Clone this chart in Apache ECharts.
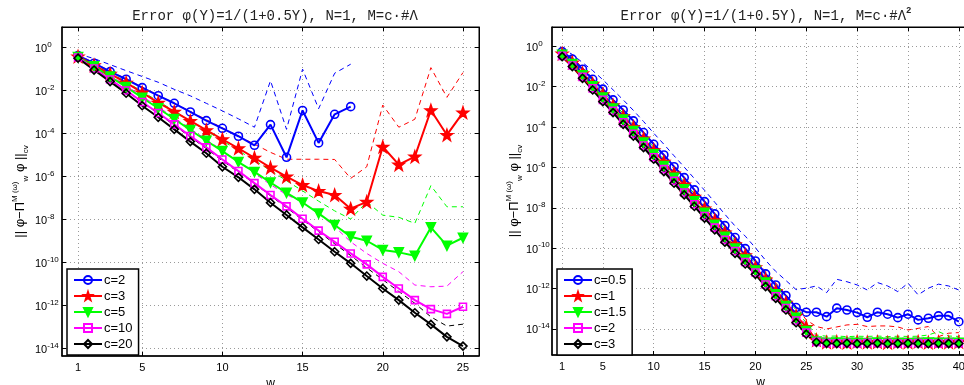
<!DOCTYPE html>
<html><head><meta charset="utf-8">
<script src="https://cdn.jsdelivr.net/npm/echarts@6/dist/echarts.min.js"></script>
<style>html,body{margin:0;padding:0;background:#fff}#c{width:964px;height:385px}</style>
</head><body><div id="c"></div>
<script>
// ---- categories (w) ----
const wLeft = [1,2,3,4,5,6,7,8,9,10,11,12,13,14,15,16,17,18,19,20,21,22,23,24,25];
const wRight = [1,2,3,4,5,6,7,8,9,10,11,12,13,14,15,16,17,18,19,20,21,22,23,24,25,26,27,28,29,30,31,32,33,34,35,36,37,38,39,40];
// ---- tick labels ----
const xTicksLeft = [1,5,10,15,20,25];
const xTicksRight = [1,5,10,15,20,25,30,35,40];
const yTicks = [-14,-12,-10,-8,-6,-4,-2,0]; // exponents of 10
// ---- left plot: log10 of error, M = c·#Λ ----
const L_c2   = [-0.38,-0.735,-1.126,-1.48,-1.87,-2.245,-2.597,-3.0,-3.406,-3.76,-4.13,-4.55,-3.59,-5.11,-2.93,-4.44,-3.11,-2.755];
const L_c2d  = [-0.3,-0.52,-0.8,-1.08,-1.35,-1.62,-1.95,-2.25,-2.6,-2.95,-3.32,-3.71,-1.55,-3.81,-1.01,-2.85,-1.2,-0.78];
const L_c3   = [-0.42,-0.83,-1.23,-1.64,-2.10,-2.57,-2.99,-3.42,-3.85,-4.27,-4.69,-5.13,-5.59,-6.01,-6.40,-6.68,-6.86,-7.50,-7.18,-4.62,-5.45,-5.08,-2.92,-4.07,-3.03];
const L_c3d  = [-0.35,-0.72,-1.1,-1.47,-1.85,-2.22,-2.6,-2.98,-3.36,-3.74,-4.12,-4.5,-4.88,-5.20,-5.20,-5.20,-5.21,-6.09,-5.55,-2.68,-3.71,-3.34,-0.94,-2.32,-1.17];
const L_c5   = [-0.45,-0.88,-1.36,-1.84,-2.34,-2.83,-3.33,-3.84,-4.34,-4.82,-5.33,-5.79,-6.28,-6.76,-7.21,-7.72,-8.26,-8.80,-8.99,-9.42,-9.53,-9.69,-8.37,-9.22,-8.85];
const L_c5d  = [-0.38,-0.76,-1.18,-1.6,-2.05,-2.5,-2.96,-3.42,-3.88,-4.34,-4.8,-5.26,-5.72,-6.2,-6.67,-7.15,-7.6,-7.98,-7.18,-7.80,-7.90,-8.18,-6.43,-7.41,-7.41];
const L_c10  = [-0.47,-0.98,-1.49,-2.00,-2.54,-3.05,-3.58,-4.12,-4.65,-5.21,-5.75,-6.31,-6.86,-7.39,-7.97,-8.52,-9.04,-9.58,-10.09,-10.67,-11.21,-11.75,-12.17,-12.39,-12.06];
const L_c10d = [-0.40,-0.85,-1.3,-1.78,-2.27,-2.76,-3.27,-3.78,-4.28,-4.8,-5.32,-5.85,-6.38,-6.85,-7.2,-7.72,-8.34,-9.04,-9.58,-10.04,-10.43,-11.05,-11.13,-11.10,-10.43];
const L_c20  = [-0.50,-1.05,-1.59,-2.13,-2.71,-3.25,-3.81,-4.38,-4.92,-5.55,-6.04,-6.60,-7.22,-7.79,-8.37,-8.93,-9.50,-10.04,-10.63,-11.21,-11.75,-12.34,-12.88,-13.46,-13.89];
const L_c20d = [-0.45,-0.95,-1.48,-2.0,-2.55,-3.08,-3.62,-4.17,-4.7,-5.27,-5.8,-6.33,-6.9,-7.45,-8.02,-8.57,-9.13,-9.68,-10.25,-10.8,-11.35,-11.9,-12.53,-12.96,-12.87];
// ---- right plot: log10 of error, M = c·#Λ² ----
const R_c05  = [-0.26,-0.63,-1.13,-1.63,-2.12,-2.65,-3.15,-3.69,-4.27,-4.85,-5.38,-5.96,-6.50,-7.11,-7.69,-8.30,-8.88,-9.47,-10.02,-10.63,-11.27,-11.82,-12.35,-12.94,-13.17,-13.17,-13.39,-12.97,-13.06,-13.19,-13.42,-13.17,-13.27,-13.44,-13.27,-13.55,-13.47,-13.35,-13.35,-13.64];
const R_c05d = [-0.1,-0.4,-0.8,-1.2,-1.65,-2.15,-2.65,-3.17,-3.72,-4.3,-4.85,-5.42,-5.98,-6.55,-7.13,-7.72,-8.32,-8.9,-9.4,-9.98,-10.6,-11.15,-11.6,-12.05,-11.98,-11.87,-12.20,-11.54,-11.66,-11.82,-12.07,-11.70,-11.87,-12.15,-11.73,-12.31,-11.98,-11.78,-11.87,-12.07];
const R_c1   = [-0.36,-0.80,-1.33,-1.86,-2.38,-2.92,-3.45,-4.00,-4.57,-5.15,-5.72,-6.30,-6.85,-7.45,-8.03,-8.62,-9.22,-9.80,-10.35,-10.95,-11.55,-12.12,-12.70,-13.35,-13.90,-14.55,-14.66,-14.64,-14.67,-14.63,-14.66,-14.65,-14.68,-14.64,-14.66,-14.63,-14.67,-14.65,-14.66,-14.64];
const R_c1d  = [-0.2,-0.55,-1.05,-1.57,-2.08,-2.6,-3.13,-3.67,-4.23,-4.8,-5.37,-5.95,-6.5,-7.08,-7.66,-8.25,-8.84,-9.42,-9.98,-10.56,-11.15,-11.72,-12.3,-12.88,-13.55,-13.88,-14.0,-13.9,-13.8,-13.77,-13.88,-13.85,-13.85,-13.9,-14.05,-13.97,-13.88,-14.38,-14.21,-14.18];
const R_c15  = [-0.42,-0.88,-1.43,-1.98,-2.53,-3.08,-3.63,-4.19,-4.77,-5.35,-5.93,-6.51,-7.08,-7.67,-8.25,-8.84,-9.44,-10.01,-10.56,-11.10,-11.70,-12.28,-12.86,-13.45,-14.10,-14.62,-14.68,-14.67,-14.69,-14.68,-14.70,-14.67,-14.69,-14.68,-14.70,-14.68,-14.67,-14.69,-14.68,-14.69];
const R_c15d = [-0.28,-0.68,-1.2,-1.72,-2.25,-2.78,-3.32,-3.87,-4.43,-5.0,-5.57,-6.15,-6.72,-7.3,-7.88,-8.46,-9.05,-9.63,-10.2,-10.75,-11.33,-11.9,-12.48,-13.06,-13.7,-14.3,-14.36,-14.35,-14.38,-14.36,-14.37,-14.35,-14.38,-14.36,-14.37,-14.36,-14.3,-14.13,-14.35,-14.37];
const R_c2   = [-0.47,-0.95,-1.51,-2.08,-2.65,-3.19,-3.76,-4.33,-4.91,-5.49,-6.08,-6.66,-7.24,-7.82,-8.40,-8.98,-9.58,-10.14,-10.68,-11.20,-11.80,-12.38,-12.96,-13.58,-14.18,-14.64,-14.70,-14.71,-14.70,-14.72,-14.70,-14.71,-14.70,-14.72,-14.71,-14.70,-14.71,-14.72,-14.70,-14.71];
const R_c2d  = [-0.33,-0.75,-1.28,-1.82,-2.37,-2.9,-3.45,-4.01,-4.58,-5.15,-5.73,-6.31,-6.88,-7.46,-8.04,-8.62,-9.21,-9.78,-10.32,-10.86,-11.45,-12.03,-12.6,-13.2,-13.8,-14.4,-14.46,-14.45,-14.47,-14.45,-14.46,-14.44,-14.47,-14.45,-14.46,-14.45,-14.47,-14.44,-14.46,-14.45];
const R_c3   = [-0.51,-1.00,-1.58,-2.16,-2.74,-3.28,-3.86,-4.44,-5.01,-5.59,-6.20,-6.78,-7.36,-7.93,-8.51,-9.09,-9.70,-10.25,-10.78,-11.29,-11.90,-12.48,-13.06,-13.69,-14.26,-14.66,-14.71,-14.72,-14.71,-14.73,-14.72,-14.71,-14.73,-14.72,-14.71,-14.72,-14.73,-14.71,-14.72,-14.72];
const R_c3d  = [-0.38,-0.82,-1.37,-1.92,-2.48,-3.02,-3.57,-4.14,-4.7,-5.27,-5.86,-6.44,-7.01,-7.59,-8.17,-8.75,-9.35,-9.92,-10.45,-10.98,-11.56,-12.15,-12.72,-13.33,-13.92,-14.5,-14.56,-14.55,-14.57,-14.55,-14.56,-14.55,-14.57,-14.55,-14.56,-14.55,-14.57,-14.55,-14.56,-14.55];

const STAR = 'path://M0,-10L2.35,-3.24L9.51,-3.09L3.8,1.24L5.88,8.09L0,4L-5.88,8.09L-3.8,1.24L-9.51,-3.09L-2.35,-3.24Z';
const FONT = 'Liberation Sans';
const BLUE='#0000ff', RED='#ff0000', GREEN='#00ff00', MAG='#ff00ff', BLK='#000000';

function pts(ws, arr){ return arr.map((v,i)=>[ws[i], v]); }

const marks = {
  circle:  {symbol:'circle', symbolSize:8, fill:false},
  star:    {symbol:STAR, symbolSize:11, fill:true},
  tri:     {symbol:'triangle', symbolSize:9, fill:true, rotate:180},
  square:  {symbol:'rect', symbolSize:7, fill:false},
  diamond: {symbol:'diamond', symbolSize:8, fill:false}
};

function solid(name, g, ws, arr, color, mk){
  const m = marks[mk];
  return {
    name, type:'line', xAxisIndex:g*2, yAxisIndex:g*2, data:pts(ws,arr),
    symbol:m.symbol, symbolSize:m.symbolSize, symbolRotate:m.rotate||0, showSymbol:true,
    lineStyle:{color, width:2}, itemStyle:{color: m.fill?color:'rgba(255,255,255,0)', borderColor:color, borderWidth:1.6},
    z:3, silent:true, animation:false, clip:true
  };
}
function dashed(name, g, ws, arr, color){
  return {
    name, type:'line', xAxisIndex:g*2, yAxisIndex:g*2, data:pts(ws,arr),
    symbol:'none', lineStyle:{color, width:1, type:[5,4]}, itemStyle:{color},
    z:2, silent:true, animation:false, clip:true
  };
}

const supFmt = v => '{b|10}{s|' + v + '}';
const tickLabelRich = {
  b:{fontSize:11, fontFamily:FONT, color:'#000', verticalAlign:'bottom', lineHeight:12},
  s:{fontSize:8, fontFamily:FONT, color:'#000', verticalAlign:'bottom', padding:[0,0,6,0]}
};
const splitStyle = {show:true, lineStyle:{color:'#9a9a9a', width:1, type:[1,3]}};

function xAx(g, max, ticks){
  return [{
    gridIndex:g, type:'value', min:0, max, position:'bottom',
    axisLine:{show:true, onZero:false, lineStyle:{color:'#000', width:1.5}},
    axisTick:{show:true, inside:true, length:4, customValues:ticks, lineStyle:{color:'#000'}},
    axisLabel:{show:true, customValues:ticks, color:'#000', fontSize:11, fontFamily:FONT, margin:6},
    splitLine:splitStyle,
    name:'w', nameLocation:'middle', nameGap:13, nameTextStyle:{fontSize:12, fontFamily:FONT, color:'#000'}
  },{
    gridIndex:g, type:'value', min:0, max, position:'top',
    axisLine:{show:true, onZero:false, lineStyle:{color:'#000', width:1}},
    axisTick:{show:true, inside:true, length:4, customValues:ticks, lineStyle:{color:'#000'}},
    axisLabel:{show:false}, splitLine:{show:false}
  }];
}
const yName = '{m||| φ−Π}{sup|M (ω)}{sub|w}{m| φ ||}{sub|cv}';
const yNameRich = {
  m:{fontSize:13, fontFamily:FONT, color:'#000', verticalAlign:'bottom', padding:[0,0,3,0]},
  sup:{fontSize:8, fontFamily:FONT, color:'#000', verticalAlign:'bottom', padding:[0,0,11,0]},
  sub:{fontSize:8, fontFamily:FONT, color:'#000', verticalAlign:'bottom', padding:[0,0,0,0]}
};
function yAx(g, min, max, gap, lblMargin){
  return [{
    gridIndex:g, type:'value', min, max, position:'left',
    axisLine:{show:true, onZero:false, lineStyle:{color:'#000', width:1.5}},
    axisTick:{show:true, inside:true, length:4, customValues:yTicks, lineStyle:{color:'#000'}},
    axisLabel:{show:true, customValues:yTicks, formatter:supFmt, rich:tickLabelRich, margin:lblMargin, align:'left'},
    splitLine:splitStyle,
    name:yName, nameLocation:'middle', nameGap:gap, nameRotate:90, nameMoveOverlap:false, nameTextStyle:{rich:yNameRich}
  },{
    gridIndex:g, type:'value', min, max, position:'right',
    axisLine:{show:true, onZero:false, lineStyle:{color:'#000', width:1}},
    axisTick:{show:true, inside:true, length:4, customValues:yTicks, lineStyle:{color:'#000'}},
    axisLabel:{show:false}, splitLine:{show:false}
  }];
}

const series = [
  dashed('Ld2',0,wLeft,L_c2d,BLUE), dashed('Ld3',0,wLeft,L_c3d,RED), dashed('Ld5',0,wLeft,L_c5d,GREEN),
  dashed('Ld10',0,wLeft,L_c10d,MAG), dashed('Ld20',0,wLeft,L_c20d,BLK),
  solid('L:c=2',0,wLeft,L_c2,BLUE,'circle'), solid('L:c=3',0,wLeft,L_c3,RED,'star'),
  solid('L:c=5',0,wLeft,L_c5,GREEN,'tri'), solid('L:c=10',0,wLeft,L_c10,MAG,'square'),
  solid('L:c=20',0,wLeft,L_c20,BLK,'diamond'),
  dashed('Rd05',1,wRight,R_c05d,BLUE), dashed('Rd1',1,wRight,R_c1d,RED), dashed('Rd15',1,wRight,R_c15d,GREEN),
  dashed('Rd2',1,wRight,R_c2d,MAG), dashed('Rd3',1,wRight,R_c3d,BLK),
  solid('R:c=0.5',1,wRight,R_c05,BLUE,'circle'), solid('R:c=1',1,wRight,R_c1,RED,'star'),
  solid('R:c=1.5',1,wRight,R_c15,GREEN,'tri'), solid('R:c=2',1,wRight,R_c2,MAG,'square'),
  solid('R:c=3',1,wRight,R_c3,BLK,'diamond')
];

const legendBase = {
  orient:'vertical', itemWidth:28, itemHeight:10, itemGap:2,
  padding:[4,6,4,6], borderColor:'#000', borderWidth:1.5, borderRadius:0, backgroundColor:'#fff',
  textStyle:{fontSize:13, fontFamily:FONT, color:'#000', lineHeight:14, padding:[0,0,0,-3]},
  formatter: n => n.slice(2), selectedMode:false, z:10
};

const titleFont = {fontSize:14, fontFamily:'Liberation Mono', fontWeight:'normal', color:'#222'};
const option = {
  backgroundColor:'#fff', animation:false,
  title:[
    {text:'Error φ(Y)=1/(1+0.5Y), N=1, M=c·#Λ', left:270, top:4, textAlign:'center', textStyle:titleFont},
    {text:'{t|Error φ(Y)=1/(1+0.5Y), N=1, M=c·#Λ}{s|2}', left:761, top:1, textAlign:'center',
     textStyle:{rich:{t:Object.assign({verticalAlign:'bottom'},titleFont), s:{fontSize:9, fontFamily:'Liberation Mono', color:'#222', verticalAlign:'bottom', padding:[0,0,8,0]}}}}
  ],
  grid:[
    {left:62, top:27, width:417, height:329, show:true, borderColor:'#000', borderWidth:1, backgroundColor:'#fff', containLabel:false, outerBoundsMode:'none'},
    {left:552, top:27, width:417, height:328, show:true, borderColor:'#000', borderWidth:1, backgroundColor:'#fff', containLabel:false, outerBoundsMode:'none'}
  ],
  xAxis:[...xAx(0,26,xTicksLeft), ...xAx(1,41,xTicksRight)],
  yAxis:[...yAx(0,-14.35,0.95,32,27), ...yAx(1,-15.29,0.96,28,26)],
  legend:[
    Object.assign({}, legendBase, {left:67, top:269, data:['L:c=2','L:c=3','L:c=5','L:c=10','L:c=20']}),
    Object.assign({}, legendBase, {left:557, top:269, data:['R:c=0.5','R:c=1','R:c=1.5','R:c=2','R:c=3']})
  ],
  series
};
const chart = echarts.init(document.getElementById('c'), null, {renderer:'canvas'});
chart.setOption(option);
</script></body></html>
